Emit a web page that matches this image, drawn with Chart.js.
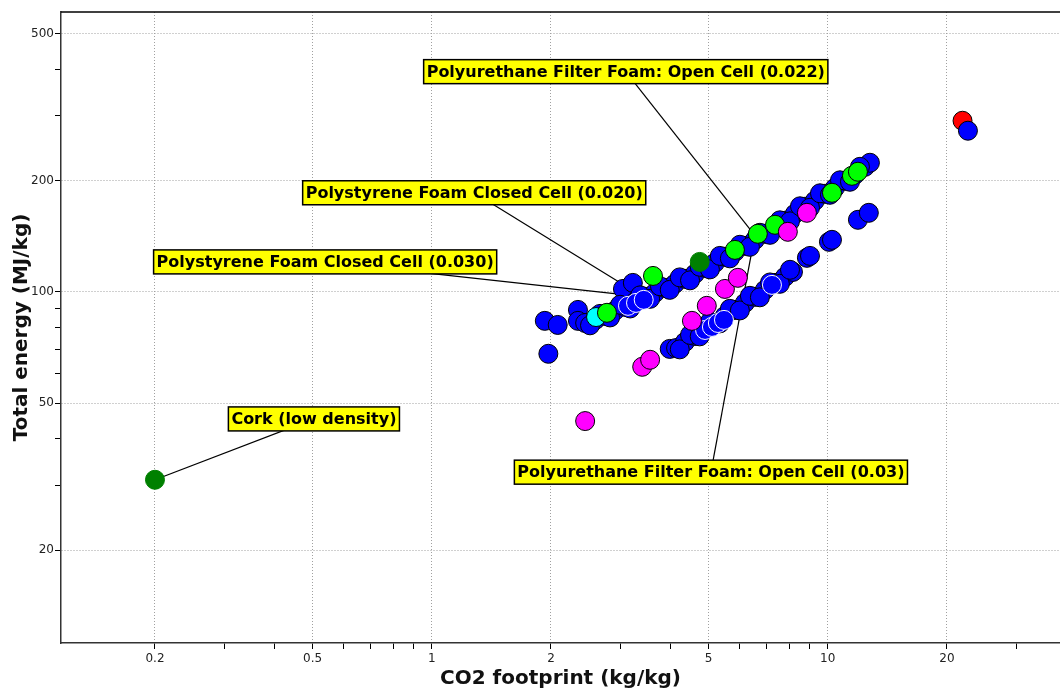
<!DOCTYPE html>
<html>
<head>
<meta charset="utf-8">
<script src="https://cdn.jsdelivr.net/npm/chart.js@4.4.1/dist/chart.umd.min.js"></script>
<style>
  html, body { margin: 0; padding: 0; background: #fff; }
  #wrap { width: 1060px; height: 691px; }
</style>
</head>
<body>
<div id="wrap"><canvas id="ecoChart"></canvas></div>
<script>
// axis ticks (log-log)
const xMajor = [0.2, 0.5, 1, 2, 5, 10, 20];
const xMinor = [0.3, 0.4, 0.6, 0.7, 0.8, 0.9, 3, 4, 6, 7, 8, 9, 30];
const yMajor = [20, 50, 100, 200, 500];
const yMinor = [30, 40, 60, 70, 80, 90, 300, 400];

// [CO2 footprint, total energy]
const bluePoints = [
  [1.93, 83.5], [2.08, 81.4], [1.97, 68.0], [2.34, 89.4], [2.34, 83.5], [2.47, 82.4], [3.04, 101.9], [3.22, 105.8],
  [2.44, 82.4], [2.59, 84.0], [2.74, 86.1], [2.90, 88.9], [3.08, 91.1], [3.26, 94.0], [3.46, 97.0], [3.66, 99.4],
  [3.88, 102.6], [4.11, 105.2], [4.36, 108.5], [4.62, 112.0], [4.90, 116.2], [5.19, 119.9], [5.50, 124.5],
  [5.83, 128.4], [6.18, 133.3], [6.55, 138.4], [6.94, 143.7], [7.36, 149.2], [7.80, 155.9], [8.26, 162.8],
  [8.76, 170.1], [9.28, 176.6], [9.84, 184.4], [10.43, 191.4], [11.05, 200.0], [11.71, 207.6], [12.42, 218.2], [12.78, 223.8],
  [2.51, 81.2], [2.66, 87.2], [2.82, 85.3], [2.99, 92.3], [3.17, 90.2], [3.36, 97.9], [3.56, 95.8], [3.77, 103.6],
  [3.99, 101.3], [4.23, 109.5], [4.49, 107.5], [4.75, 117.0], [5.04, 115.1], [5.34, 125.2], [5.66, 123.3],
  [6.00, 134.2], [6.36, 132.5], [6.74, 144.6], [7.15, 142.8], [7.57, 156.3], [8.03, 155.3], [8.51, 170.6],
  [9.02, 169.0], [9.56, 185.0], [10.13, 183.3], [10.74, 200.6], [11.38, 198.8], [12.06, 218.2],
  [3.99, 70.1], [4.14, 70.5], [4.36, 73.2], [4.62, 76.0], [4.90, 79.4], [5.19, 82.4], [5.50, 86.1], [5.83, 89.4],
  [6.18, 93.4], [6.55, 97.0], [6.94, 101.3], [7.36, 105.8], [7.80, 109.9], [8.17, 113.3],
  [4.23, 69.9], [4.49, 76.5], [4.75, 75.8], [5.04, 83.0], [5.34, 82.2], [5.66, 90.0], [6.00, 89.1], [6.36, 97.6],
  [6.74, 96.7], [7.15, 106.1], [7.57, 105.2], [8.03, 114.8],
  [8.86, 123.7], [9.02, 125.2], [10.07, 136.7], [10.25, 138.4], [11.92, 156.8], [12.7, 163.8],
  [22.6, 273.3]
];
const whiteEdgePoints = [
  [3.13, 91.7], [3.28, 93.4], [3.43, 95.2], [4.90, 78.9], [5.10, 80.4], [5.28, 82.4], [5.47, 84.0], [7.23, 104.5]
];
const limePoints = [
  [2.77, 87.8], [3.62, 110.5], [5.83, 130.0], [6.66, 143.7], [7.36, 152.0], [10.25, 185.6], [11.51, 206.3], [11.92, 211.6]
];
const darkGreenPoints = [[0.2, 31.0], [4.75, 120.6]];
const magentaPoints = [
  [2.44, 44.7], [3.40, 62.7], [3.56, 65.5], [4.54, 83.5], [4.95, 91.7], [5.50, 101.9], [5.93, 109.2], [7.93, 145.5], [8.86, 163.8]
];
const cyanPoints = [[2.60, 85.5]];
const redPoints = [[21.9, 290.8]];

// callout labels: box centre and the point it refers to
const labelTexts = [
  'Polyurethane Filter Foam: Open Cell (0.022)',
  'Polystyrene Foam Closed Cell (0.020)',
  'Polystyrene Foam Closed Cell (0.030)',
  'Cork (low density)',
  'Polyurethane Filter Foam: Open Cell (0.03)'
];
const labelX = [3.09, 1.28, 0.538, 0.504, 5.07];
const labelY = [395, 185.6, 120.6, 45.3, 32.5];
const targetX = [6.44, 3.02, 2.93, 0.2, 6.51];
const targetY = [145.5, 105.2, 98.8, 31.0, 138.4];

const toXY = arr => arr.map(p => ({ x: p[0], y: p[1] }));

function series(data, fill, edge) {
  return {
    data: toXY(data),
    backgroundColor: fill,
    borderColor: edge || '#000',
    borderWidth: 1,
    pointRadius: 9.5,
    pointHoverRadius: 9.5
  };
}

const calloutPlugin = {
  id: 'callouts',
  beforeDatasetsDraw(chart) {
    const { ctx, scales: { x, y } } = chart;
    ctx.save();
    ctx.strokeStyle = '#000';
    ctx.lineWidth = 1.2;
    labelTexts.forEach((t, i) => {
      ctx.beginPath();
      ctx.moveTo(x.getPixelForValue(labelX[i]), y.getPixelForValue(labelY[i]));
      ctx.lineTo(x.getPixelForValue(targetX[i]), y.getPixelForValue(targetY[i]));
      ctx.stroke();
    });
    ctx.restore();
  },
  afterDatasetsDraw(chart) {
    const { ctx, chartArea, scales: { x, y } } = chart;
    ctx.save();
    // top frame
    ctx.strokeStyle = '#000';
    ctx.lineWidth = 1.5;
    ctx.beginPath();
    ctx.moveTo(chartArea.left, chartArea.top);
    ctx.lineTo(chartArea.right, chartArea.top);
    ctx.stroke();

    ctx.font = 'bold 16px "DejaVu Sans"';
    ctx.textAlign = 'center';
    ctx.textBaseline = 'middle';
    labelTexts.forEach((t, i) => {
      const cx = x.getPixelForValue(labelX[i]);
      const cy = y.getPixelForValue(labelY[i]);
      const w = ctx.measureText(t).width + 6, h = 24;
      ctx.fillStyle = '#ffff00';
      ctx.fillRect(cx - w / 2, cy - h / 2, w, h);
      ctx.lineWidth = 1.5;
      ctx.strokeStyle = '#000';
      ctx.strokeRect(cx - w / 2, cy - h / 2, w, h);
      ctx.fillStyle = '#000';
      ctx.fillText(t, cx, cy + 1);
    });
    ctx.restore();
  }
};

const tickFont = { family: 'DejaVu Sans', size: 12 };
const titleFont = { family: 'DejaVu Sans', size: 20, weight: 'bold' };

const chart = new Chart(document.getElementById('ecoChart'), {
  type: 'scatter',
  data: {
    datasets: [
      series(magentaPoints, '#ff00ff'),
      series(whiteEdgePoints, '#0000ff', '#ffffff'),
      series(limePoints, '#00ff00'),
      series(cyanPoints, '#00ffff'),
      series(darkGreenPoints, '#008000', '#008000'),
      series(bluePoints, '#0000ff'),
      series(redPoints, '#ff0000')
    ]
  },
  options: {
    responsive: true,
    maintainAspectRatio: false,
    animation: false,
    events: [],
    layout: { autoPadding: false, padding: { top: 12, left: 0, right: 0, bottom: 0 } },
    plugins: { legend: { display: false }, tooltip: { enabled: false } },
    scales: {
      x: {
        type: 'logarithmic',
        min: 0.1158,
        max: 38.6,
        afterBuildTicks: s => { s.ticks = xMajor.concat(xMinor).sort((a, b) => a - b).map(v => ({ value: v })); },
        afterFit: s => { s.height = 48; s.paddingLeft = 0; s.paddingRight = 0; },
        ticks: {
          autoSkip: false, maxRotation: 0, minRotation: 0, padding: 3,
          font: tickFont, color: '#222',
          callback: v => xMajor.includes(v) ? String(v) : ''
        },
        grid: {
          color: c => xMajor.includes(c.tick.value) ? '#a0a0a0' : 'rgba(0,0,0,0)',
          lineWidth: 1,
          tickColor: '#000',
          tickLength: 6,
          tickBorderDash: []
        },
        border: { color: '#333', width: 1.5, dash: [1, 2] },
        title: { display: true, text: 'CO2 footprint (kg/kg)', font: titleFont, color: '#111', padding: { top: 0, bottom: 0 } }
      },
      y: {
        type: 'logarithmic',
        min: 11.2,
        max: 573,
        afterBuildTicks: s => { s.ticks = yMajor.concat(yMinor).sort((a, b) => a - b).map(v => ({ value: v })); },
        afterFit: s => { s.width = 61; s.paddingTop = 0; s.paddingBottom = 0; },
        ticks: {
          autoSkip: false, padding: 1,
          font: tickFont, color: '#222',
          callback: v => yMajor.includes(v) ? String(v) : ''
        },
        grid: {
          color: c => yMajor.includes(c.tick.value) ? '#a0a0a0' : 'rgba(0,0,0,0)',
          lineWidth: 1,
          tickColor: '#000',
          tickLength: 6,
          tickBorderDash: []
        },
        border: { color: '#333', width: 1.5, dash: [1, 2] },
        title: { display: true, text: 'Total energy (MJ/kg)', font: titleFont, color: '#111', padding: { top: 10, bottom: 0 } }
      }
    }
  },
  plugins: [calloutPlugin]
});
</script>
</body>
</html>
